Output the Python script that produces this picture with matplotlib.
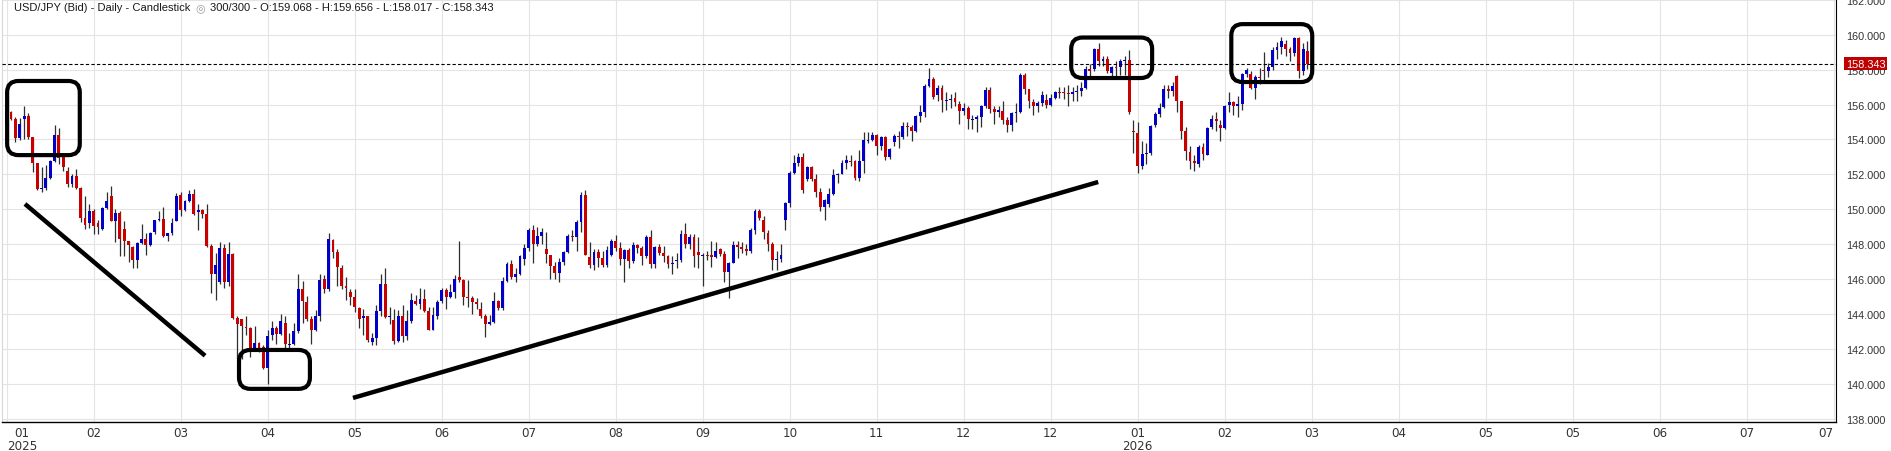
import numpy as np
import matplotlib
matplotlib.use("Agg")
import matplotlib.pyplot as plt
import matplotlib.transforms as mtransforms
from matplotlib.patches import FancyBboxPatch

# daily USD/JPY candles
opens = [154.90, 155.58, 155.19, 154.10, 155.15, 155.33, 154.13, 152.65, 151.19, 151.19,
         151.79, 152.75, 154.27, 153.02, 152.19, 151.46, 151.92, 151.23, 149.50, 149.19,
         149.88, 149.20, 148.85, 150.08, 150.77, 149.33, 149.81, 148.85, 148.17, 147.83,
         147.08, 148.06, 148.27, 147.94, 148.69, 149.37, 149.42, 148.48, 148.63, 149.33,
         150.80, 149.96, 150.48, 150.86, 149.85, 149.94, 149.71, 147.90, 146.29, 145.85,
         147.77, 145.85, 147.43, 143.77, 143.68, 143.24, 143.20, 142.00, 142.34, 142.10,
         140.91, 142.76, 143.20, 142.86, 143.48, 142.25, 142.29, 143.01, 145.43, 144.67,
         143.71, 143.09, 143.90, 146.00, 145.43, 148.23, 147.52, 146.63, 145.58, 145.24,
         144.99, 144.32, 143.75, 143.89, 142.40, 142.63, 144.15, 145.71, 143.81, 143.66,
         142.46, 143.85, 142.74, 143.58, 144.74, 144.57, 144.86, 144.19, 143.10, 143.85,
         144.72, 145.37, 144.99, 145.24, 146.10, 145.96, 144.99, 144.91, 144.69, 144.29,
         143.85, 143.39, 143.56, 144.76, 144.36, 145.90, 146.86, 146.13, 146.29, 147.14,
         147.77, 148.80, 148.00, 148.48, 147.71, 147.37, 146.72, 146.34, 147.00, 147.56,
         148.48, 148.42, 149.24, 150.82, 147.28, 146.82, 147.52, 147.20, 146.80, 147.37,
         148.19, 147.77, 147.14, 147.66, 147.05, 147.94, 147.75, 147.33, 148.42, 146.86,
         147.85, 147.49, 147.33, 146.86, 147.01, 147.10, 148.57, 148.00, 148.42, 147.52,
         147.33, 147.37, 147.37, 147.28, 147.71, 147.43, 146.42, 146.91, 147.94, 147.85,
         147.71, 147.62, 148.80, 149.90, 149.39, 148.63, 148.00, 147.10, 147.14, 149.39,
         150.34, 152.06, 152.67, 153.00, 151.71, 152.44, 151.71, 150.99, 150.13, 150.29,
         150.87, 151.98, 152.03, 152.65, 152.74, 152.74, 151.79, 152.74, 153.95, 153.95,
         154.23, 153.64, 154.14, 152.99, 153.85, 154.20, 154.14, 154.79, 154.71, 154.50,
         155.32, 155.57, 157.06, 157.46, 156.53, 156.95, 156.22, 156.28, 156.37, 156.03,
         155.65, 155.80, 155.13, 155.19, 155.28, 155.93, 156.81, 155.76, 155.56, 155.62,
         155.09, 154.80, 155.51, 155.60, 157.71, 156.90, 156.14, 155.91, 156.10, 156.27,
         156.00, 156.39, 156.73, 156.71, 156.67, 156.63, 156.69, 156.77, 156.94, 158.01,
         158.01, 159.20, 158.47, 158.62, 157.80, 158.15, 158.18, 158.49, 158.53, 154.47,
         154.38, 152.50, 153.17, 153.21, 154.80, 155.47, 155.85, 156.90, 156.80, 157.61,
         156.18, 154.51, 153.27, 152.79, 152.60, 153.59, 153.12, 154.74, 155.18, 154.84,
         154.67, 155.95, 156.14, 155.89, 156.04, 157.76, 157.76, 156.96, 157.57, 157.99,
         157.93, 158.18, 159.10, 159.27, 159.45, 159.16, 158.93, 159.83, 157.95, 159.068]

highs = [155.65, 155.65, 155.30, 155.25, 155.90, 155.54, 154.13, 152.65, 152.42, 152.54,
         152.80, 154.85, 154.65, 153.10, 152.40, 152.00, 152.30, 151.30, 150.77, 150.27,
         150.00, 149.40, 150.10, 150.96, 151.35, 150.00, 149.90, 149.30, 148.20, 147.90,
         148.10, 149.17, 148.65, 148.70, 149.40, 149.90, 150.10, 148.65, 149.50, 150.90,
         151.00, 150.50, 151.10, 151.15, 150.30, 150.00, 150.30, 148.00, 147.50, 148.10,
         148.00, 148.10, 147.50, 143.90, 143.70, 143.90, 143.25, 143.30, 142.40, 142.20,
         143.10, 143.60, 143.30, 144.00, 143.90, 142.90, 143.50, 146.30, 145.90, 145.00,
         143.90, 144.20, 146.30, 146.20, 148.63, 148.30, 147.70, 146.80, 146.10, 145.40,
         145.40, 144.40, 144.30, 143.90, 142.90, 144.50, 146.30, 146.60, 144.40, 144.30,
         144.20, 144.50, 144.20, 145.20, 145.10, 145.50, 145.40, 144.40, 144.40, 144.80,
         145.50, 145.50, 145.70, 146.20, 148.20, 146.00, 145.96, 145.00, 144.90, 144.70,
         144.00, 143.95, 145.24, 144.80, 146.10, 147.00, 147.10, 146.60, 147.40, 148.00,
         148.90, 149.10, 149.00, 148.90, 148.70, 147.40, 147.00, 147.20, 147.60, 148.60,
         148.80, 149.40, 151.00, 151.10, 148.10, 147.70, 147.70, 147.60, 147.90, 148.30,
         148.50, 148.10, 147.70, 147.80, 148.10, 148.00, 147.90, 148.50, 148.80, 147.90,
         148.00, 147.90, 147.40, 147.30, 147.50, 148.80, 149.20, 148.60, 148.60, 148.40,
         147.50, 147.60, 148.20, 148.10, 147.80, 147.60, 147.00, 148.20, 148.20, 148.10,
         148.00, 148.90, 150.00, 150.00, 149.60, 148.80, 148.10, 147.60, 148.00, 150.40,
         152.20, 153.10, 153.20, 153.20, 152.50, 152.50, 152.00, 151.20, 150.60, 151.20,
         152.30, 152.10, 152.80, 153.10, 153.10, 152.80, 153.40, 154.40, 154.40, 154.40,
         154.30, 154.20, 154.20, 153.50, 154.30, 154.50, 155.00, 155.00, 154.80, 155.40,
         156.00, 157.20, 158.10, 157.60, 157.10, 157.10, 156.70, 156.60, 156.70, 156.20,
         156.10, 155.90, 155.40, 155.40, 156.00, 157.00, 157.00, 155.90, 155.90, 156.20,
         155.30, 155.60, 156.10, 157.80, 157.80, 156.90, 156.30, 156.20, 156.80, 156.60,
         156.60, 156.80, 157.00, 157.00, 157.10, 157.00, 157.10, 157.30, 158.20, 158.30,
         159.25, 159.50, 158.80, 158.80, 158.20, 158.50, 158.60, 158.80, 159.10, 155.10,
         155.00, 153.90, 153.80, 154.80, 155.60, 156.10, 157.10, 157.10, 157.30, 157.70,
         156.20, 154.70, 153.60, 153.10, 153.70, 153.80, 154.70, 155.40, 155.60, 155.10,
         156.00, 156.70, 156.20, 156.50, 157.80, 158.10, 157.90, 157.70, 158.10, 159.00,
         158.40, 159.30, 159.60, 159.90, 159.70, 159.30, 159.90, 159.90, 159.50, 159.656]

lows = [154.85, 155.10, 153.85, 153.94, 154.04, 154.04, 152.15, 151.10, 150.96, 151.12,
        151.75, 152.70, 152.58, 152.20, 151.25, 151.30, 151.15, 149.27, 148.88, 148.92,
        148.58, 148.60, 148.80, 150.00, 149.30, 148.10, 147.30, 147.30, 146.98, 146.60,
        146.65, 148.00, 147.40, 147.90, 148.60, 149.30, 148.40, 148.20, 148.50, 149.30,
        149.60, 149.90, 150.40, 149.65, 148.80, 149.50, 147.85, 145.20, 144.80, 145.70,
        145.50, 145.60, 143.70, 141.40, 141.40, 142.80, 141.50, 141.90, 141.80, 140.85,
        140.00, 142.50, 142.30, 142.80, 141.90, 142.00, 142.20, 142.90, 143.50, 143.60,
        142.30, 143.00, 143.60, 145.20, 145.30, 147.20, 145.60, 145.40, 144.80, 144.50,
        144.10, 143.20, 142.80, 142.40, 142.19, 142.20, 143.90, 143.75, 143.40, 142.30,
        142.40, 142.40, 142.50, 143.50, 144.50, 144.30, 144.10, 143.05, 143.05, 143.70,
        144.60, 144.30, 144.90, 144.90, 145.80, 144.50, 144.40, 144.00, 144.30, 143.78,
        142.70, 143.35, 143.50, 144.20, 144.20, 145.80, 146.00, 145.80, 146.20, 146.80,
        147.60, 146.90, 147.90, 148.00, 146.90, 146.00, 146.00, 145.80, 146.80, 147.50,
        148.20, 147.60, 148.70, 147.35, 146.60, 146.50, 146.70, 146.70, 146.70, 147.30,
        147.60, 146.80, 145.80, 146.60, 146.90, 147.50, 146.80, 147.20, 146.60, 146.60,
        147.40, 147.00, 146.60, 146.30, 146.60, 147.00, 147.80, 147.70, 146.70, 146.60,
        145.60, 147.10, 146.70, 147.20, 147.30, 145.80, 144.90, 146.90, 147.20, 147.50,
        147.40, 147.50, 148.60, 149.40, 148.30, 147.60, 146.50, 146.50, 147.00, 148.80,
        150.10, 152.00, 152.50, 150.95, 151.60, 151.60, 150.70, 149.90, 149.40, 150.10,
        150.80, 151.50, 152.00, 152.30, 152.50, 151.70, 151.60, 152.10, 153.80, 153.90,
        153.10, 153.40, 152.80, 152.90, 153.60, 153.50, 154.00, 154.20, 153.90, 154.40,
        155.00, 155.30, 157.00, 156.30, 156.20, 155.60, 155.70, 155.80, 155.90, 154.90,
        155.40, 154.60, 154.60, 154.40, 154.70, 155.80, 155.50, 154.90, 155.30, 154.90,
        154.40, 154.50, 155.00, 155.50, 156.60, 155.80, 155.40, 155.60, 155.90, 155.80,
        155.90, 156.30, 156.40, 156.30, 155.90, 156.20, 156.20, 156.50, 156.90, 157.60,
        157.90, 158.20, 158.20, 157.80, 157.60, 157.60, 157.70, 157.70, 155.45, 153.20,
        152.10, 152.30, 152.60, 153.10, 154.70, 155.30, 155.80, 156.40, 156.50, 155.60,
        154.00, 152.80, 152.30, 152.20, 152.40, 152.80, 153.10, 154.60, 154.50, 153.90,
        154.60, 155.60, 155.40, 155.30, 155.70, 157.60, 156.90, 156.30, 157.20, 157.30,
        157.60, 158.00, 158.60, 158.90, 158.80, 158.50, 158.80, 157.50, 157.70, 158.017]

closes = [155.62, 155.19, 154.10, 154.90, 155.33, 154.13, 152.65, 151.15, 151.23, 151.79,
          152.75, 154.27, 152.92, 152.42, 151.46, 151.92, 151.23, 149.50, 149.10, 149.88,
          149.04, 149.00, 150.06, 150.46, 149.33, 149.81, 148.31, 148.17, 147.94, 147.06,
          148.06, 148.27, 147.94, 148.62, 149.37, 149.42, 148.46, 148.63, 149.20, 150.76,
          149.96, 150.48, 150.86, 149.71, 149.94, 149.75, 147.90, 146.29, 146.80, 147.77,
          145.85, 147.43, 143.77, 143.43, 143.28, 143.20, 142.00, 142.34, 142.06, 140.91,
          142.72, 143.20, 142.86, 143.58, 142.25, 142.29, 143.01, 145.43, 144.76, 143.71,
          143.09, 143.90, 145.94, 145.43, 148.29, 147.56, 146.67, 145.62, 145.50, 144.99,
          144.38, 143.71, 143.89, 142.51, 142.63, 144.15, 145.71, 143.81, 143.90, 142.44,
          143.85, 142.74, 143.58, 144.80, 144.57, 144.86, 144.19, 143.10, 143.94, 144.69,
          145.37, 144.99, 145.24, 146.00, 145.96, 144.99, 144.91, 144.70, 144.57, 143.85,
          143.39, 143.56, 144.76, 144.36, 145.90, 146.86, 146.10, 146.29, 147.30, 147.77,
          148.80, 148.00, 148.44, 148.70, 147.43, 146.76, 146.34, 147.00, 147.56, 148.48,
          148.42, 149.24, 150.82, 147.39, 146.82, 147.52, 147.20, 146.80, 147.66, 148.19,
          147.77, 147.14, 147.66, 147.05, 147.94, 147.75, 147.33, 148.42, 146.86, 147.81,
          147.49, 147.33, 146.86, 146.91, 147.10, 148.57, 148.00, 148.42, 147.33, 147.37,
          147.37, 147.33, 147.28, 147.60, 147.43, 146.42, 146.91, 147.94, 147.85, 147.71,
          147.62, 148.80, 149.90, 149.47, 148.67, 148.00, 147.10, 147.14, 147.39, 150.34,
          152.06, 152.67, 153.00, 151.09, 152.44, 151.71, 150.99, 150.13, 150.54, 150.87,
          151.98, 152.03, 152.65, 152.80, 152.68, 151.79, 152.74, 153.95, 153.98, 154.23,
          153.64, 154.14, 152.99, 153.45, 154.21, 154.14, 154.79, 154.71, 154.50, 155.32,
          155.57, 157.06, 157.46, 156.41, 156.95, 156.28, 156.28, 156.34, 156.15, 155.65,
          155.80, 155.17, 155.19, 155.28, 155.93, 156.85, 155.76, 155.56, 155.70, 155.09,
          154.80, 155.51, 155.60, 157.71, 156.90, 156.18, 155.91, 156.10, 156.52, 156.00,
          156.39, 156.71, 156.69, 156.67, 156.63, 156.69, 156.77, 156.94, 158.01, 157.95,
          159.20, 158.47, 158.62, 157.95, 158.15, 158.11, 158.47, 158.51, 155.56, 154.42,
          152.50, 153.17, 153.21, 154.76, 155.47, 155.79, 156.90, 156.80, 157.09, 156.18,
          154.51, 153.31, 152.79, 152.66, 153.59, 153.14, 154.67, 155.18, 155.03, 154.68,
          155.91, 156.14, 155.89, 156.04, 157.76, 157.99, 156.96, 157.57, 157.51, 157.93,
          158.18, 159.10, 159.27, 159.67, 159.16, 158.93, 159.83, 157.95, 159.20, 158.343]

month_ticks = list(range(0, 421, 20))
month_labels = ["01\n2025", "02", "03", "04", "05", "06", "07", "08", "09", "10", "11",
                "12", "12", "01\n2026", "02", "03", "04", "05", "05", "06", "07", "07"]
price_ticks = list(range(138, 163, 2))
last_price = 158.343

# hand drawn marks on the chart, in (bar index, price)
boxes = [(0.1, 153.1, 16.8, 157.35),
         (53.4, 139.7, 69.7, 141.93),
         (244.7, 157.52, 263.3, 159.84),
         (281.5, 157.29, 300.1, 160.61)]
strokes = [((4.2, 150.3), (45.6, 141.6)),
           ((79.6, 139.18), (250.9, 151.56))]

W, H = 1891, 452
fig = plt.figure(figsize=(W / 100, H / 100), dpi=100)
ax = fig.add_axes([2 / W, 29 / H, 1834 / W, 423 / H])
xmin, xmax = -1.08, 420.5
ymin, ymax = 137.8, 162.05
ax.set_xlim(xmin, xmax)
ax.set_ylim(ymin, ymax)

o = np.array(opens); c = np.array(closes)
hi = np.array(highs); lo = np.array(lows)
x = np.arange(len(o))
up = c >= o
cols = np.where(up, "#0000c8", "#c80000")
body = np.maximum(np.abs(c - o), 0.06)
bottom = np.minimum(o, c) - (body - np.abs(c - o)) / 2

ax.vlines(x, lo, hi, color="#2e2e2e", lw=0.9, zorder=2)
ax.bar(x, body, width=0.66, bottom=bottom, color=cols, linewidth=0, zorder=3)

ax.axhline(last_price, color="black", lw=0.8, ls=(0, (3, 2)), zorder=4)

# annotations
px_bar = 1834 / (xmax - xmin)
px_price = 423 / (ymax - ymin)
asp = px_bar / px_price
for x0, y0, x1, y1 in boxes:
    p = FancyBboxPatch((x0, y0), x1 - x0, y1 - y0,
                       boxstyle="round,pad=0,rounding_size=2.6",
                       mutation_aspect=asp, fill=False, ec="black", lw=3, zorder=5)
    ax.add_patch(p)
for (xa, ya), (xb, yb) in strokes:
    ax.plot([xa, xb], [ya, yb], color="black", lw=3.2, solid_capstyle="butt", zorder=5)

# axes look
ax.set_axisbelow(True)
ax.set_yticks(price_ticks)
ax.set_yticklabels([f"{p:.3f}" for p in price_ticks])
ax.yaxis.tick_right()
ax.tick_params(axis="y", length=0, pad=7.0, labelsize=7.8, labelcolor="#333333")
ax.set_xticks(month_ticks)
ax.set_xticklabels(month_labels)
ax.tick_params(axis="x", length=0, pad=3, labelsize=8.6, labelcolor="#333333")
for t in ax.get_xticklabels():
    t.set_family(["Liberation Sans Narrow", "DejaVu Sans"])
    t.set_linespacing(1.0)
    t.set_multialignment("center")
ax.get_xticklabels()[0].set_ha("left")
ax.get_xticklabels()[-1].set_ha("right")
for t in ax.get_yticklabels():
    t.set_family(["Liberation Sans", "DejaVu Sans"])
ax.grid(True, color="#e4e4e4", lw=0.8)
ax.spines["top"].set_visible(False)
ax.spines["left"].set_color("#d8d8d8")
ax.spines["right"].set_color("black")
ax.spines["right"].set_linewidth(0.8)
ax.spines["bottom"].set_color("black")
ax.spines["bottom"].set_linewidth(1.0)

# last price box on the price scale
trans = mtransforms.blended_transform_factory(ax.transAxes, ax.transData)
ax.annotate(f"{last_price:.3f}", xy=(1, last_price), xycoords=trans,
            xytext=(7.0, 0), textcoords="offset points", ha="left", va="center",
            color="white", fontsize=7.8, family=["Liberation Sans", "DejaVu Sans"],
            bbox=dict(boxstyle="square,pad=0.12", fc="#c00000", ec="none"),
            annotation_clip=False, zorder=6)

# header line
t1 = ax.text(12 / 1834, 1 - 8 / 423, "USD/JPY (Bid) - Daily - Candlestick",
             transform=ax.transAxes, ha="left", va="center", fontsize=8.0,
             color="#1a1a1a", family=["Liberation Sans", "DejaVu Sans"])
t2 = ax.annotate("\u25ce", xy=(1, 0.5), xycoords=t1, xytext=(3.5, 0),
                 textcoords="offset points", ha="left", va="center",
                 fontsize=8, color="#9a9a9a", family=["DejaVu Sans"])
ax.annotate("300/300 - O:159.068 - H:159.656 - L:158.017 - C:158.343",
            xy=(1, 0.5), xycoords=t2, xytext=(3.5, 0), textcoords="offset points",
            ha="left", va="center", fontsize=8.0, color="#1a1a1a",
            family=["Liberation Sans", "DejaVu Sans"])

fig.savefig("out.png", dpi=100, facecolor="white")
